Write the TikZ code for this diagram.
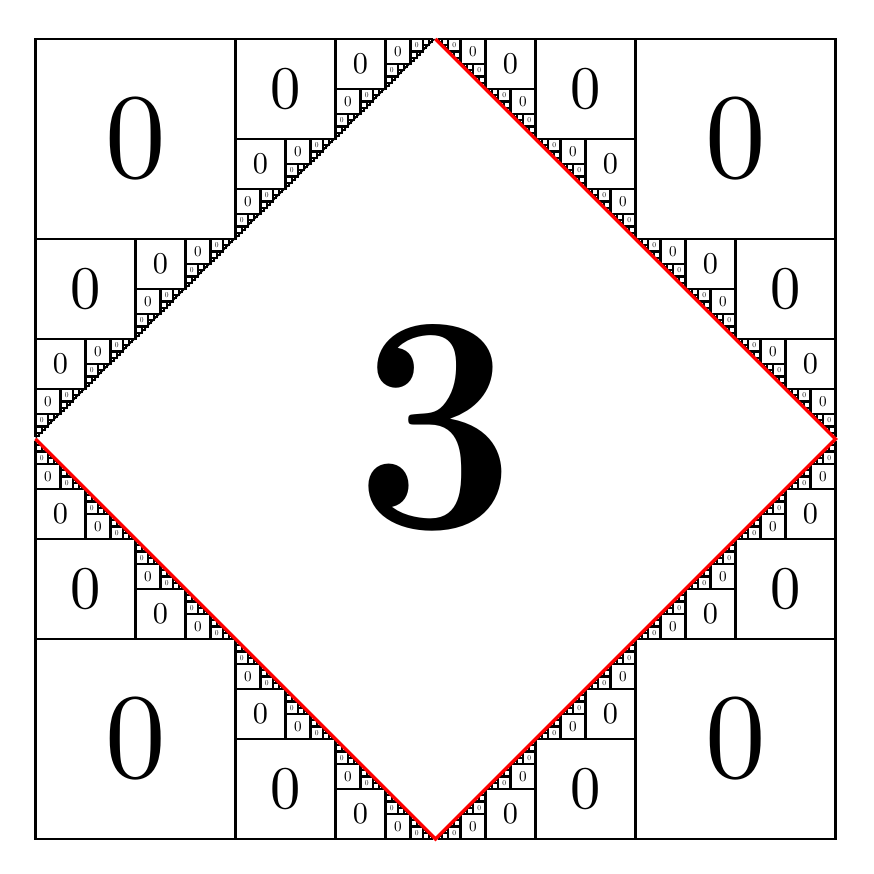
\documentclass[tikz,border=0pt]{standalone}
\begin{document}
\begin{tikzpicture}[x=0.01cm,y=-0.01cm,
  sq/.style={draw=black, fill=white, line width=0.021cm, line join=miter},
  lbl/.style={inner sep=0pt},
  redge/.style={draw=red, line width=0.034cm, line join=miter}]
\useasboundingbox (0,0) rectangle (873,874);
\coordinate (T) at (435.5,39);
\coordinate (R) at (835.5,439);
\coordinate (B) at (435.5,839);
\coordinate (L) at (35.5,439);
\foreach \cx/\cy/\dx/\dy/\cn in {35.5/39/1/1/a, 835.5/39/-1/1/b, 35.5/839/1/-1/c, 835.5/839/-1/-1/d}{
  \pgfmathsetmacro{\ex}{\cx+400*(\dx)}
  \pgfmathsetmacro{\ey}{\cy+400*(\dy)}
  \fill[black] (\cx,\cy) -- (\ex,\cy) -- (\cx,\ey) -- cycle;
  \foreach \k in {0,...,6}{
    \pgfmathsetmacro{\Lk}{400/2^\k}
    \pgfmathsetmacro{\s}{\Lk/2}
    \pgfmathtruncatemacro{\n}{2^\k-1}
    \pgfmathsetmacro{\sc}{3.44/2^\k}
    \foreach \j in {0,...,\n}{
      \pgfmathsetmacro{\xa}{\cx+(\dx)*\j*\Lk}
      \pgfmathsetmacro{\ya}{\cy+(\dy)*(400-\Lk-\j*\Lk)}
      \pgfmathsetmacro{\xb}{\xa+(\dx)*\s}
      \pgfmathsetmacro{\yb}{\ya+(\dy)*\s}
      \pgfmathsetmacro{\xm}{(\xa+\xb)/2}
      \pgfmathsetmacro{\ym}{(\ya+\yb)/2}
      \draw[sq] (\xa,\ya) rectangle (\xb,\yb);
      \ifnum\k<5 \node[lbl,scale=\sc] (z\cn\k-\j) at (\xm,\ym) {0};\fi
    }
  }
}
\draw[redge] (T) -- (R) -- (B) -- (L);
\node[font=\fontsize{88}{100}\selectfont\bfseries, inner sep=0pt, xscale=0.92] (three) at (436,428) {3};
\end{tikzpicture}
\end{document}
